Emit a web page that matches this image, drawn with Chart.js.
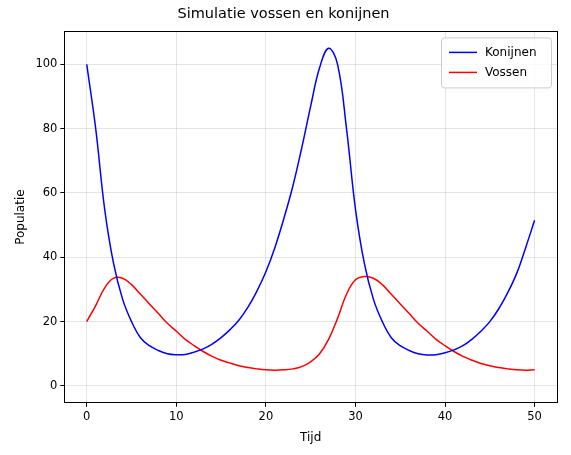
<!DOCTYPE html>
<html><head><meta charset="utf-8">
<script src="https://cdn.jsdelivr.net/npm/chart.js@4"></script>
<style>html,body{margin:0;background:#fff}#w{width:571px;height:455px}</style>
</head><body><div id="w"><canvas id="c"></canvas></div>
<script>
const times=[...Array(51).keys()];
const konijnen=[100,80,55,38,27,20,15,12.5,11,10,9.7,9.8,10.5,11.5,13,15,17.5,20.5,24.5,29.5,35.5,43,52,62,74,87,99,105,100,80,55,38,27,20,15,12.5,11,10,9.6,9.7,10.3,11.2,12.5,14.5,17,20,24,29,35,43,51.5];
const vossen=[20,25,30.5,33.5,33.5,31.5,28.5,25.5,22.5,19.5,17,14.5,12.5,10.7,9.2,8,7.1,6.3,5.7,5.3,5,4.9,5,5.3,6,7.5,10,14.5,21,28.5,33,34,33.5,31.5,28.5,25.5,22.5,19.5,17,14.5,12.5,10.7,9.2,8,7,6.3,5.7,5.3,5,4.9,5];
const xTicks=[0,10,20,30,40,50], yTicks=[0,20,40,60,80,100];
const F='"DejaVu Sans"';
const legendPlugin={id:'lg',afterDraw(ch){const c=ch.ctx,a=ch.chartArea;
c.save();c.strokeStyle='#000';c.lineWidth=1;c.strokeRect(Math.round(a.left)+.5,Math.round(a.top)+.5,Math.round(a.right-a.left),Math.round(a.bottom-a.top));
const w=110,h=50,x=a.right-w-6,y=a.top+6;
c.fillStyle='rgba(255,255,255,0.8)';c.strokeStyle='#ccc';c.beginPath();c.roundRect(x+.5,y+.5,w,h,3);c.fill();c.stroke();
ch.data.datasets.forEach((d,i)=>{const yy=y+15+i*20;c.strokeStyle=d.borderColor;c.lineWidth=1.5;c.beginPath();c.moveTo(x+8,yy);c.lineTo(x+36,yy);c.stroke();
c.fillStyle='#000';c.font='12px '+F;c.textBaseline='middle';c.fillText(d.label,x+44,yy);});c.restore();}};
new Chart(document.getElementById('c'),{type:'line',
data:{datasets:[{label:'Konijnen',data:times.map((t,i)=>({x:t,y:konijnen[i]})),borderColor:'#0000ff',borderWidth:1.5,pointRadius:0,tension:0.4},
{label:'Vossen',data:times.map((t,i)=>({x:t,y:vossen[i]})),borderColor:'#ff0000',borderWidth:1.5,pointRadius:0,tension:0.4}]},
options:{responsive:true,maintainAspectRatio:false,animation:false,
layout:{padding:{left:10,right:14,top:2,bottom:6}},
plugins:{legend:{display:false},tooltip:{enabled:false},
title:{display:true,text:'Simulatie vossen en konijnen',color:'#000',font:{family:F,size:14.5,weight:'normal'},padding:{top:4,bottom:8}}},
scales:{x:{type:'linear',min:-2.5,max:52.5,afterBuildTicks(s){s.ticks=xTicks.map(v=>({value:v}));},
grid:{color:'rgba(0,0,0,0.1)',tickColor:'#000',tickLength:4},border:{color:'#000'},
ticks:{color:'#000',font:{family:F,size:11.5},maxRotation:0},title:{display:true,text:'Tijd',color:'#000',font:{family:F,size:12}}},
y:{min:-5.25,max:110.25,afterBuildTicks(s){s.ticks=yTicks.map(v=>({value:v}));},
grid:{color:'rgba(0,0,0,0.1)',tickColor:'#000',tickLength:4},border:{color:'#000'},
ticks:{color:'#000',font:{family:F,size:11.5}},title:{display:true,text:'Populatie',color:'#000',font:{family:F,size:12}}}}},
plugins:[legendPlugin]});
</script></body></html>
